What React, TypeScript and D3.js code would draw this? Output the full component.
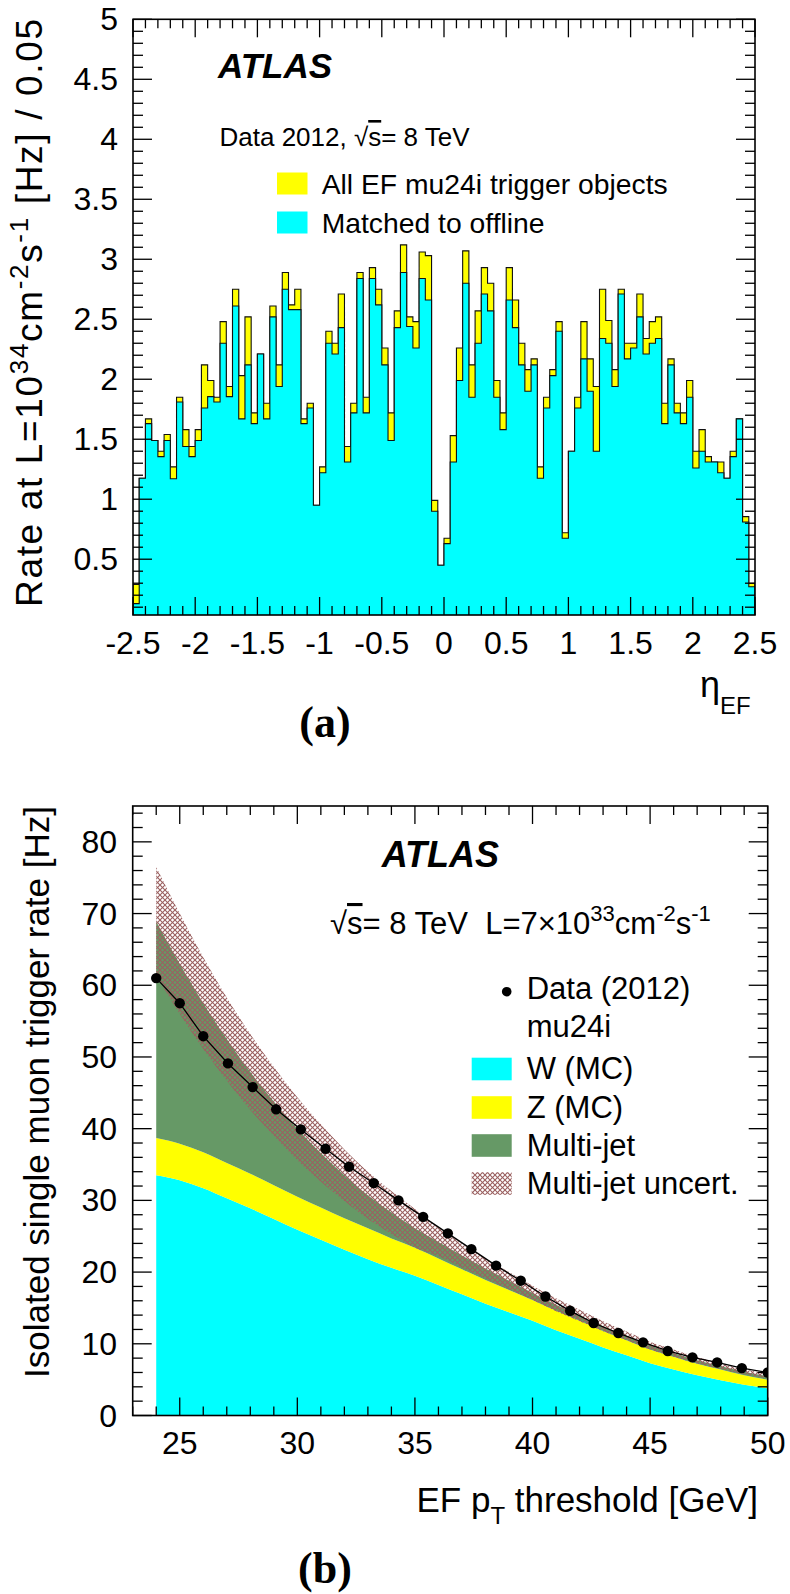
import React from 'react';
import * as d3 from 'd3';

// ---------- Panel (a): eta histogram (100 bins, width 0.05, -2.5..2.5) ----------
const etaAll = [
  0.29, 1.175, 1.67, 1.49, 1.40, 1.54, 1.27, 1.85, 1.58, 1.44,
  1.58, 2.12, 1.99, 1.85, 2.48, 1.94, 2.75, 2.03, 2.52, 1.72,
  2.21, 1.80, 2.61, 2.12, 2.89, 2.62, 2.75, 1.67, 1.80, 0.95,
  1.27, 2.40, 2.30, 2.71, 1.44, 1.80, 2.89, 1.85, 2.93, 2.75,
  2.26, 1.72, 2.57, 3.12, 2.52, 2.48, 3.06, 3.03, 0.99, 0.45,
  0.675, 1.53, 2.26, 3.07, 2.12, 2.57, 2.93, 2.80, 1.99, 1.72,
  2.93, 2.66, 2.30, 2.08, 2.17, 1.27, 1.85, 2.08, 2.48, 0.72,
  1.40, 1.85, 2.48, 2.17, 1.94, 2.75, 2.49, 2.08, 2.75, 2.30,
  2.30, 2.71, 2.34, 2.48, 2.52, 1.80, 2.17, 1.80, 1.72, 1.99,
  1.40, 1.58, 1.355, 1.31, 1.31, 1.175, 1.40, 1.67, 0.855, 0.30,
];
const etaMatched = [
  0.13, 1.175, 1.63, 1.49, 1.355, 1.49, 1.17, 1.81, 1.44, 1.355,
  1.49, 1.76, 1.855, 1.81, 2.30, 1.855, 2.61, 1.67, 2.12, 1.63,
  2.21, 1.67, 2.52, 1.94, 2.75, 2.58, 2.58, 1.63, 1.76, 0.95,
  1.22, 2.30, 2.21, 2.43, 1.31, 1.72, 2.84, 1.72, 2.84, 2.62,
  2.12, 1.49, 2.43, 2.89, 2.44, 2.26, 2.84, 2.66, 0.90, 0.45,
  0.63, 1.31, 1.99, 2.80, 1.85, 2.30, 2.71, 2.57, 1.85, 1.58,
  2.66, 2.43, 2.12, 1.90, 2.12, 1.175, 1.76, 2.03, 2.40, 0.675,
  1.40, 1.76, 2.17, 1.90, 1.40, 2.34, 2.30, 1.94, 2.71, 2.17,
  2.26, 2.52, 2.21, 2.30, 2.34, 1.63, 2.12, 1.72, 1.63, 1.85,
  1.26, 1.40, 1.31, 1.31, 1.22, 1.175, 1.355, 1.67, 0.81, 0.27,
];
const etaTicks = [-2.5, -2, -1.5, -1, -0.5, 0, 0.5, 1, 1.5, 2, 2.5];
const rateTicksA = [0.5, 1, 1.5, 2, 2.5, 3, 3.5, 4, 4.5, 5];

// ---------- Panel (b): rate vs pT threshold ----------
const ptGrid = [24, 25, 26, 27, 28, 29, 30, 31, 32, 33, 34, 35, 36, 37, 38, 39, 40, 41, 42, 43, 44, 45, 46, 47, 48, 49, 50];
const wMC = [33.5, 32.8, 31.7, 30.3, 28.9, 27.4, 25.9, 24.5, 23.1, 21.8, 20.6, 19.5, 18.2, 16.9, 15.6, 14.4, 13.2, 11.9, 10.7, 9.5, 8.4, 7.3, 6.4, 5.6, 4.9, 4.3, 3.8];
const zMC = [5.2, 5.1, 5.0, 4.9, 4.8, 4.7, 4.6, 4.5, 4.4, 4.3, 4.1, 3.9, 3.7, 3.5, 3.3, 3.1, 2.9, 2.7, 2.5, 2.3, 2.1, 1.9, 1.8, 1.6, 1.5, 1.3, 1.2];
const multiJet = [30.2, 25.1, 20.8, 17.3, 14.2, 11.7, 9.5, 7.6, 6.0, 4.6, 3.6, 2.7, 2.3, 1.9, 1.6, 1.3, 1.0, 0.85, 0.75, 0.65, 0.6, 0.55, 0.5, 0.5, 0.5, 0.5, 0.5];
const multiJetUnc = [7.6, 7.0, 6.4, 5.8, 5.3, 4.8, 4.4, 4.0, 3.6, 3.3, 3.0, 2.7, 2.0, 1.7, 1.4, 1.2, 1.0, 0.9, 0.8, 0.7, 0.6, 0.55, 0.5, 0.45, 0.4, 0.35, 0.3];
const dataPt = [24.0, 25.0, 26.0, 27.05, 28.1, 29.1, 30.15, 31.2, 32.2, 33.25, 34.3, 35.35, 36.4, 37.4, 38.45, 39.5, 40.55, 41.6, 42.6, 43.65, 44.7, 45.75, 46.8, 47.85, 48.9, 50.0];
const dataRate = [61.0, 57.5, 52.9, 49.1, 45.8, 42.7, 39.9, 37.2, 34.7, 32.4, 30.0, 27.7, 25.4, 23.2, 20.9, 18.8, 16.6, 14.6, 12.9, 11.5, 10.2, 9.0, 8.1, 7.4, 6.6, 6.0];
const ptTicks = [25, 30, 35, 40, 45, 50];
const rateTicksB = [0, 10, 20, 30, 40, 50, 60, 70, 80];

const legendA = ['All EF mu24i trigger objects', 'Matched to offline'];
const legendB = ['W (MC)', 'Z (MC)', 'Multi-jet', 'Multi-jet uncert.'];

const CYAN = '#00ffff';
const YELLOW = '#ffff00';
const GREEN = '#669966';
const HATCH = '#9a5f5f';
const SANS = '"Liberation Sans", Arial, Helvetica, sans-serif';
const SERIF = '"Liberation Serif", "Times New Roman", serif';

const FA = { left: 133, right: 755, top: 19.3, bottom: 615 };
const FB = { left: 132.7, right: 767.7, top: 806, bottom: 1415.5 };

function Frame({ f, xs, xMajor, ys, yMajor, xScale, yScale }: any) {
  const lines: any[] = [];
  xs.forEach((v: number, i: number) => {
    const x = xScale(v);
    const L = xMajor(v) ? 18 : 9;
    lines.push(<line key={'xb' + i} x1={x} x2={x} y1={f.bottom} y2={f.bottom - L} />);
    lines.push(<line key={'xt' + i} x1={x} x2={x} y1={f.top} y2={f.top + L} />);
  });
  ys.forEach((v: number, i: number) => {
    const y = yScale(v);
    const L = yMajor(v) ? 19 : 10;
    lines.push(<line key={'yl' + i} x1={f.left} x2={f.left + L} y1={y} y2={y} />);
    lines.push(<line key={'yr' + i} x1={f.right} x2={f.right - L} y1={y} y2={y} />);
  });
  return (
    <g stroke="#000" strokeWidth={1.3} fill="none">
      {lines}
      <rect x={f.left} y={f.top} width={f.right - f.left} height={f.bottom - f.top} strokeWidth={1.6} />
    </g>
  );
}

export default function App() {
  // ----- panel (a) -----
  const yMinA = 0.035;
  const xA = d3.scaleLinear().domain([-2.5, 2.5]).range([FA.left, FA.right]);
  const yA = d3.scaleLinear().domain([yMinA, 5]).range([FA.bottom, FA.top]);
  const edges = d3.range(etaAll.length + 1).map((i) => -2.5 + i * 0.05);
  const steps = (vals: number[]) => {
    const pts: [number, number][] = [[edges[0], yMinA]];
    vals.forEach((v, i) => {
      pts.push([edges[i], v]);
      pts.push([edges[i + 1], v]);
    });
    pts.push([edges[vals.length], yMinA]);
    return pts;
  };
  const histArea = d3.area<[number, number]>().x((d) => xA(d[0])).y0(yA(yMinA)).y1((d) => yA(d[1]));
  const histLine = d3.line<[number, number]>().x((d) => xA(d[0])).y((d) => yA(d[1]));
  const allPts = steps(etaAll);
  const matPts = steps(etaMatched);
  const minorEta = d3.range(51).map((i) => +(-2.5 + i * 0.1).toFixed(2));
  const minorRateA = d3.range(1, 51).map((i) => +(i * 0.1).toFixed(2));
  const isMult = (v: number, m: number) => Math.abs(v / m - Math.round(v / m)) < 1e-6;

  // ----- panel (b) -----
  const xB = d3.scaleLinear().domain([23, 50]).range([FB.left, FB.right]);
  const yB = d3.scaleLinear().domain([0, 85]).range([FB.bottom, FB.top]);
  const stack = ptGrid.map((p, i) => {
    const w = wMC[i];
    const wz = w + zMC[i];
    const m = wz + multiJet[i];
    return { p, w, wz, m, lo: m - multiJetUnc[i], hi: m + multiJetUnc[i] };
  });
  type S = (typeof stack)[number];
  const band = (y0: (d: S) => number, y1: (d: S) => number) =>
    d3.area<S>().curve(d3.curveMonotoneX).x((d) => xB(d.p)).y0((d) => yB(y0(d))).y1((d) => yB(y1(d)))(stack) || '';
  const wPath = band(() => 0, (d) => d.w);
  const zPath = band((d) => d.w, (d) => d.wz);
  const mjPath = band((d) => d.wz, (d) => d.m);
  const uncPath = band((d) => d.lo, (d) => d.hi);
  const dataLine = d3.line<number>().x((_, i) => xB(dataPt[i])).y((d) => yB(d))(dataRate) || '';
  const minorPt = d3.range(23, 51);
  const minorRateB = d3.range(0, 85, 2);

  const legRowA = [183, 222];
  const legRowB = [1069, 1107.5, 1145.5, 1183.5];

  return (
    <svg
      width={790}
      height={1594}
      viewBox="0 0 790 1594"
      style={{ position: 'absolute', left: 0, top: 0, background: '#fff' }}
      fontFamily={SANS}
    >
      <defs>
        <clipPath id="clipA">
          <rect x={FA.left} y={FA.top} width={FA.right - FA.left} height={FA.bottom - FA.top} />
        </clipPath>
        <clipPath id="clipB">
          <rect x={FB.left} y={FB.top} width={FB.right - FB.left} height={FB.bottom - FB.top} />
        </clipPath>
        <pattern id="hatch" patternUnits="userSpaceOnUse" width={5} height={5}>
          <path d="M-1,1 L1,-1 M0,5 L5,0 M4,6 L6,4" stroke={HATCH} strokeWidth={1.1} />
          <path d="M-1,4 L1,6 M0,0 L5,5 M4,-1 L6,1" stroke={HATCH} strokeWidth={1.1} />
        </pattern>
      </defs>
      <rect x={0} y={0} width={790} height={1594} fill="#fff" />

      {/* ================= Panel (a) ================= */}
      <g clipPath="url(#clipA)">
        <path d={histArea(allPts) || ''} fill={YELLOW} />
        <path d={histLine(allPts) || ''} fill="none" stroke="#111" strokeWidth={1.1} />
        <path d={histArea(matPts) || ''} fill={CYAN} />
        <path d={histLine(matPts) || ''} fill="none" stroke="#111" strokeWidth={1.1} />
      </g>
      <Frame
        f={FA}
        xs={minorEta}
        xMajor={(v: number) => isMult(v, 0.5)}
        ys={minorRateA}
        yMajor={(v: number) => isMult(v, 0.5)}
        xScale={xA}
        yScale={yA}
      />
      <g fontSize={32} fill="#000">
        {etaTicks.map((t) => (
          <text key={'ex' + t} x={xA(t)} y={654} textAnchor="middle">{String(t)}</text>
        ))}
        {rateTicksA.map((t) => (
          <text key={'ry' + t} x={118} y={yA(t) + 11} textAnchor="end">{String(t)}</text>
        ))}
      </g>
      <text
        transform="translate(42,19) rotate(-90)"
        textAnchor="end"
        fontSize={37}
        fill="#000"
        textLength={588}
        lengthAdjust="spacing"
      >
        Rate at L=10<tspan dy={-14} fontSize={26}>34</tspan>
        <tspan dy={14}>cm</tspan>
        <tspan dy={-14} fontSize={26}>-2</tspan>
        <tspan dy={14}>s</tspan>
        <tspan dy={-14} fontSize={26}>-1</tspan>
        <tspan dy={14}> [Hz] / 0.05</tspan>
      </text>
      <text x={700} y={697} fontSize={36} fill="#000">
        η<tspan dy={17} fontSize={24}>EF</tspan>
      </text>
      <text x={325} y={737} textAnchor="middle" fontFamily={SERIF} fontWeight="bold" fontSize={44}>(a)</text>

      <text x={218} y={78} fontSize={35} fontWeight="bold" fontStyle="italic">ATLAS</text>
      <text x={219.5} y={146} fontSize={26}>
        Data 2012, √<tspan style={{ textDecoration: 'overline' }}>s</tspan>= 8 TeV
      </text>
      {legendA.map((t, i) => (
        <g key={t}>
          <rect x={277} y={legRowA[i] - 10.5} width={30.5} height={22} fill={i === 0 ? YELLOW : CYAN} />
          <text x={321.7} y={legRowA[i] + 10.5} fontSize={28.3}>{t}</text>
        </g>
      ))}

      {/* ================= Panel (b) ================= */}
      <g clipPath="url(#clipB)">
        <path d={wPath} fill={CYAN} />
        <path d={zPath} fill={YELLOW} />
        <path d={mjPath} fill={GREEN} />
        <path d={uncPath} fill="url(#hatch)" />
        <path d={dataLine} fill="none" stroke="#000" strokeWidth={1.3} />
        {dataRate.map((v, i) => (
          <circle key={'d' + i} cx={xB(dataPt[i])} cy={yB(v)} r={5.2} fill="#000" />
        ))}
      </g>
      <Frame
        f={FB}
        xs={minorPt}
        xMajor={(v: number) => v % 5 === 0}
        ys={minorRateB}
        yMajor={(v: number) => v % 10 === 0}
        xScale={xB}
        yScale={yB}
      />
      <g fontSize={32} fill="#000">
        {ptTicks.map((t) => (
          <text key={'px' + t} x={xB(t)} y={1454} textAnchor="middle">{String(t)}</text>
        ))}
        {rateTicksB.map((t) => (
          <text key={'rb' + t} x={117} y={yB(t) + 11} textAnchor="end">{String(t)}</text>
        ))}
      </g>
      <text transform="translate(49,806) rotate(-90)" textAnchor="end" fontSize={35} fill="#000">
        Isolated single muon trigger rate [Hz]
      </text>
      <text x={758} y={1512} textAnchor="end" fontSize={35} fill="#000">
        EF p<tspan dy={12} fontSize={24}>T</tspan>
        <tspan dy={-12}> threshold [GeV]</tspan>
      </text>
      <text x={325} y={1583} textAnchor="middle" fontFamily={SERIF} fontWeight="bold" fontSize={44}>(b)</text>

      <text x={381.7} y={867} fontSize={36} fontWeight="bold" fontStyle="italic">ATLAS</text>
      <text x={330} y={934} fontSize={31} style={{ whiteSpace: 'pre' }}>
        √<tspan style={{ textDecoration: 'overline' }}>s</tspan>= 8 TeV  L=7×10<tspan dy={-13} fontSize={22}>33</tspan>
        <tspan dy={13}>cm</tspan>
        <tspan dy={-13} fontSize={22}>-2</tspan>
        <tspan dy={13}>s</tspan>
        <tspan dy={-13} fontSize={22}>-1</tspan>
      </text>
      <circle cx={506.7} cy={991.7} r={4.8} fill="#000" />
      <g fontSize={31}>
        <text x={526.7} y={999}>Data (2012)</text>
        <text x={526.7} y={1037}>mu24i</text>
        {legendB.map((t, i) => (
          <g key={t}>
            <rect
              x={471.7}
              y={legRowB[i] - 11.3}
              width={40}
              height={22.6}
              fill={i === 0 ? CYAN : i === 1 ? YELLOW : i === 2 ? GREEN : 'url(#hatch)'}
            />
            <text x={526.7} y={legRowB[i] + 10}>{t}</text>
          </g>
        ))}
      </g>
    </svg>
  );
}
